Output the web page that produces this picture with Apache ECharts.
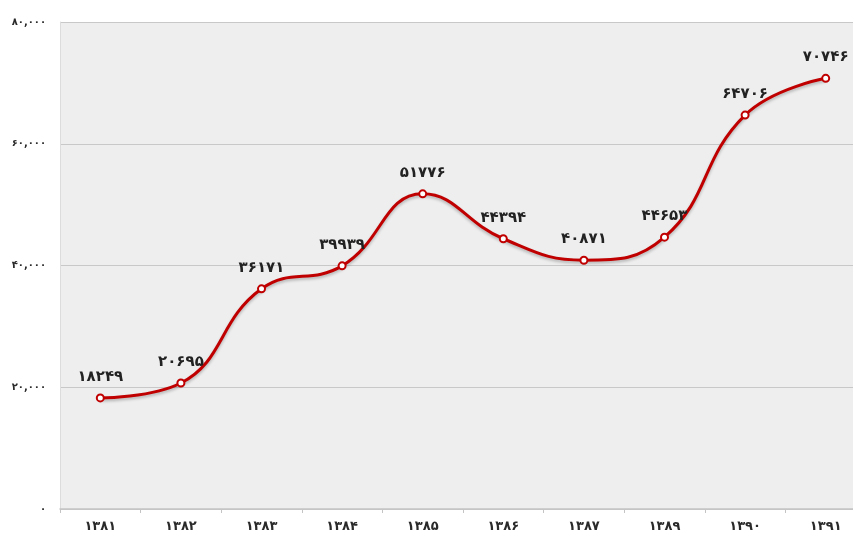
<!DOCTYPE html>
<html>
<head>
<meta charset="utf-8">
<script src="https://cdn.jsdelivr.net/npm/echarts@6/dist/echarts.min.js"></script>
<style>
html,body{margin:0;padding:0;background:#fff;}
#c{width:853px;height:539px;}
</style>
</head>
<body>
<div id="c"></div>
<script>
var categories = ['۱۳۸۱','۱۳۸۲','۱۳۸۳','۱۳۸۴','۱۳۸۵','۱۳۸۶','۱۳۸۷','۱۳۸۹','۱۳۹۰','۱۳۹۱'];
var values = [18249, 20695, 36171, 39939, 51776, 44394, 40871, 44653, 64706, 70746];
var yTicks = {0:'۰', 20000:'۲۰,۰۰۰', 40000:'۴۰,۰۰۰', 60000:'۶۰,۰۰۰', 80000:'۸۰,۰۰۰'};

function fa(n){
  var d='۰۱۲۳۴۵۶۷۸۹';
  return String(n).replace(/[0-9]/g,function(c){return d[+c];});
}

var chart = echarts.init(document.getElementById('c'));
chart.setOption({
  animation:false,
  backgroundColor:'#ffffff',
  grid:{left:60, width:806, top:22, bottom:30, show:true, backgroundColor:'#eeeeee', borderWidth:0, outerBoundsMode:'none', containLabel:false},
  xAxis:{
    type:'category',
    data:categories,
    boundaryGap:true,
    axisLine:{lineStyle:{color:'#c4c4c4', width:1.5}},
    axisTick:{show:true, length:4, lineStyle:{color:'#c4c4c4'}},
    axisLabel:{color:'#2a2a2a', fontFamily:'DejaVu Sans', fontWeight:'bold', fontSize:13, margin:11}
  },
  yAxis:{
    type:'value',
    min:0, max:80000, interval:20000,
    axisLine:{show:true, lineStyle:{color:'#dcdcdc'}},
    axisTick:{show:false},
    splitLine:{lineStyle:{color:'#c8c8c8', width:1}},
    axisLabel:{color:'#2a2a2a', fontFamily:'DejaVu Sans', fontWeight:'bold', fontSize:10, margin:14,
      formatter:function(v){return yTicks[v]!==undefined?yTicks[v]:v;}}
  },
  series:[{
    type:'line',
    data:values,
    smooth:0.45,
    symbol:'circle',
    symbolSize:7,
    lineStyle:{color:'#c00000', width:3, shadowColor:'rgba(0,0,0,0.25)', shadowBlur:3, shadowOffsetY:2},
    itemStyle:{color:'#ffffff', borderColor:'#c00000', borderWidth:2},
    label:{show:true, position:'top', distance:9, color:'#222222', fontFamily:'DejaVu Sans', fontWeight:'bold', fontSize:15,
      formatter:function(p){return fa(p.value);}}
  }]
});
</script>
</body>
</html>
